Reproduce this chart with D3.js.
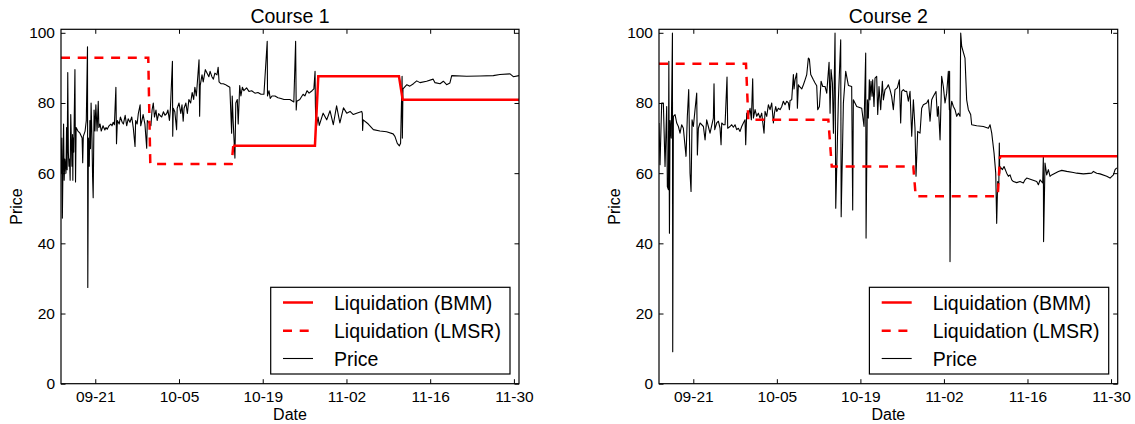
<!DOCTYPE html>
<html><head><meta charset="utf-8">
<script src="https://cdn.jsdelivr.net/npm/d3@7"></script>
<style>
body{margin:0;background:#fff}
svg{display:block}
text{font-family:"Liberation Sans",Arial,Helvetica,sans-serif;fill:#000}
</style>
</head><body>
<svg id="chart" width="1135" height="424"></svg>
<script>
// ---- data (days counted from 2013-09-01) ----
const titles = ["Course 1", "Course 2"];
const tickDays = [20, 34, 48, 62, 76, 90];
const tickLabels = ["09-21", "10-05", "10-19", "11-02", "11-16", "11-30"];
const yTicks = [0, 20, 40, 60, 80, 100];
const xDomains = [[14.27, 90.85], [14.25, 91.12]];
const yDomain = [0, 101];
const legendLabels = ["Liquidation (BMM)", "Liquidation (LMSR)", "Price"];

const bmm1 = [[43.07,67.8],[56.73,67.8],[57.29,87.6],[70.78,87.6],[71.4,80.9],[90.85,80.9]];
const lmsr1 = [[14.27,92.9],[28.86,92.9],[29.2,62.6],[42.8,62.6],[43.07,67.8]];
const price1 = [[14.3,60],[14.4,70],[14.5,47.2],[14.6,62],[14.7,74],[14.8,58],[14.9,64],[15.1,60],[15.2,73],[15.3,61],[15.4,88.7],[15.5,66],[15.6,62],[15.7,64],[15.8,58],[15.9,76.7],[16.1,62],[16.2,71],[16.25,58],[16.3,70],[16.4,66],[16.6,89.5],[16.7,57.5],[16.8,73],[17.1,72],[17.4,71.5],[17.8,70],[17.9,63],[18.0,70.5],[18.3,72],[18.5,75],[18.7,96],[18.75,27.4],[18.85,70],[19.0,62],[19.1,75],[19.2,67],[19.3,80],[19.45,70],[19.55,59],[19.65,53],[19.8,78],[19.95,72],[20.1,79.5],[20.3,72],[20.5,80.5],[20.6,73],[20.8,74],[21.0,72],[21.3,73.5],[21.6,72.3],[21.8,73],[22.0,72.5],[22.3,73.5],[22.6,74],[22.8,73.5],[23.0,74.5],[23.2,73.8],[23.45,84.5],[23.55,68.4],[23.7,75],[24.0,74],[24.2,76],[24.5,74.5],[24.7,74],[25.0,76.5],[25.25,73.5],[25.5,75.5],[25.8,74.5],[26.1,76],[26.35,73],[26.65,67.6],[26.75,75],[27.0,74],[27.2,77],[27.5,79.5],[27.6,73.5],[27.8,75],[28.0,76.7],[28.3,74],[28.6,67.1],[28.7,75],[29.0,74.3],[29.3,73.5],[29.5,78],[29.7,80],[29.9,76],[30.15,78],[30.35,75],[30.6,77],[30.8,76.5],[31.1,76],[31.4,77.5],[31.65,76.5],[31.95,77],[32.15,78],[32.4,75],[32.55,78],[32.9,91.9],[32.95,70.5],[33.05,78.5],[33.3,77.5],[33.6,72.4],[33.7,78.5],[34.0,80],[34.3,77],[34.5,79.5],[34.7,74.8],[34.85,78.5],[35.15,80],[35.4,77],[35.65,81],[35.95,80],[36.2,83],[36.45,81],[36.65,84.5],[36.9,82],[37.35,92.3],[37.45,76.2],[37.55,85],[37.85,88],[38.05,86],[38.4,89.5],[38.7,88.5],[39.0,87.5],[39.2,89],[39.5,87.5],[39.75,86.8],[40.0,88.5],[40.35,88],[40.55,90.2],[40.7,86],[41.0,85.5],[41.4,85.5],[41.7,85.3],[42.0,85],[42.5,84.5],[42.8,71.4],[42.9,82],[43.05,75],[43.35,64.3],[43.5,80],[43.75,81],[43.9,74],[44.15,85],[44.35,82],[44.6,84.5],[44.85,83.5],[45.3,84.3],[45.7,83.3],[46.15,83.5],[46.7,82.8],[47.2,83],[47.7,82.5],[48.2,82.5],[48.75,97.6],[48.8,82],[49.05,83.5],[49.25,81.3],[49.55,82],[50.05,82],[50.55,81.5],[51.05,81.3],[51.55,81],[52.55,81],[53.2,80.3],[53.5,97.6],[53.6,78],[53.7,80.5],[54.2,81],[54.75,82.5],[55.05,82],[55.4,83.5],[55.75,82.8],[56.25,83.5],[56.55,84],[56.75,89],[56.8,80],[56.9,72.4],[57.25,76],[57.45,73.6],[58.1,77.1],[58.7,75.2],[59.25,77.8],[59.8,73.8],[60.35,79.2],[60.9,74.3],[61.5,78.6],[62.05,77.1],[62.6,77.6],[63.15,76.7],[63.7,77.1],[64.55,77.6],[64.65,77],[64.7,72.2],[64.8,75.2],[65.65,74],[66.5,72.4],[67.6,72],[68.7,71.8],[69.8,71.2],[70.1,70.5],[70.5,68.5],[70.85,67.8],[71.05,68.5],[71.3,87.6],[71.35,70],[71.45,84],[72.1,85.2],[72.6,84.8],[73.2,85.5],[73.75,86.3],[74.3,85.8],[75.4,86.2],[76.5,86.8],[76.8,85.8],[77.65,85.5],[78.2,86.2],[78.75,85.2],[79.3,85.7],[79.6,87.8],[82.1,87.6],[84.3,87.7],[86.55,87.8],[87.65,88.1],[89.35,88.3],[89.9,87.5],[90.85,87.8]];

const bmm2 = [[71.4,64.8],[91.12,64.8]];
const lmsr2 = [[14.25,91.2],[28.83,91.2],[29.22,75.2],[42.63,75.2],[43.2,61.9],[56.87,61.9],[57.27,53.4],[71.02,53.4],[71.4,64.8]];
const price2 = [[14.25,74.3],[14.42,62.4],[14.7,80],[14.98,80],[15.26,61.9],[15.54,79],[15.65,56.2],[15.82,55.3],[15.9,91.9],[16.0,42.9],[16.1,75],[16.3,70],[16.5,99.9],[16.55,9.1],[16.66,76.2],[16.94,76.7],[17.22,74.3],[17.5,73.3],[17.77,71.4],[18.05,73.8],[18.33,72.8],[18.78,64.8],[19.0,76.2],[19.23,83.8],[19.45,60],[19.62,54.8],[19.79,75.2],[20.01,73.3],[20.29,78.1],[20.57,82.8],[20.68,65.2],[20.85,72.8],[21.13,74.3],[21.69,73.3],[21.97,69.5],[22.24,75.2],[22.52,73.3],[22.8,71.4],[23.36,75.7],[23.47,85.5],[23.59,72.4],[23.92,74.3],[24.2,74.8],[24.48,72.8],[24.65,68.1],[24.76,74.3],[25.04,73.8],[25.32,73.8],[25.65,87.4],[25.76,72.8],[26.16,73.3],[26.43,73.8],[26.71,73.1],[26.99,73.8],[27.27,72.4],[27.55,72.8],[27.83,71.9],[28.11,73.3],[28.39,74.3],[28.67,75.2],[28.78,68.1],[28.95,77.1],[29.23,76.2],[29.51,78.5],[29.73,75.2],[29.95,86.9],[30.07,75.7],[30.35,78.1],[30.63,76.2],[30.9,77.1],[31.18,75.7],[31.46,77.1],[31.85,71.4],[32.02,77.6],[32.3,76.2],[32.58,79.5],[32.86,78.1],[33.14,80],[33.42,74.3],[33.59,77.1],[33.81,79],[33.98,77.6],[34.26,78.5],[34.54,78.1],[34.82,79],[35.09,80.5],[35.37,79.5],[35.65,80.5],[35.93,80],[36.1,78.1],[36.21,80.7],[36.49,80.9],[36.77,88.1],[36.88,84],[37.05,86.6],[37.33,88.5],[37.44,78.5],[37.61,85.2],[37.78,84.7],[38.17,84],[38.45,85.2],[38.73,86.6],[39.01,88.1],[39.28,92.8],[39.45,92.5],[39.68,88.1],[40.12,86.6],[40.4,85.7],[40.68,84.9],[40.85,78.1],[41.13,79],[41.41,86.2],[41.69,84.7],[42.08,84.7],[42.36,82.8],[42.75,91.6],[42.92,77.1],[43.08,89.5],[43.31,85.7],[43.48,71.4],[43.75,99.9],[43.87,50],[44.31,80.9],[44.7,98],[44.78,47.6],[45.15,80],[45.54,89],[45.99,85],[46.54,84.7],[46.71,49.5],[46.82,80.9],[47.38,79],[48.22,78.5],[48.61,73.3],[48.89,94.2],[48.95,41.5],[49.17,80.9],[49.33,75.7],[49.5,86.6],[49.61,80.9],[49.78,86.2],[49.95,81.9],[50.06,86.6],[50.28,79],[50.45,87.1],[50.73,87.6],[50.9,76.7],[51.12,84.7],[51.4,78.1],[51.68,86.2],[51.85,80.9],[52.13,83.8],[52.41,84.3],[52.68,85.2],[52.96,83.8],[53.24,81.9],[53.52,78.1],[53.8,83.8],[54.19,84.3],[54.53,86.6],[54.75,74.3],[54.92,83.3],[55.2,83.8],[55.48,83.3],[55.76,83.3],[56.04,80.5],[56.32,83.3],[56.6,70.5],[56.88,80.9],[57.15,72.8],[57.32,59.1],[57.6,71.9],[57.99,71.4],[58.27,78.5],[58.55,79.5],[59.11,80],[59.39,80.9],[59.67,74.8],[59.95,80.9],[60.23,81.9],[60.67,83.3],[60.9,76.2],[61.07,79],[61.35,69.5],[61.62,87.6],[61.9,84.7],[62.18,80],[62.46,82.8],[62.74,89],[62.91,78.1],[62.95,89],[63.02,34.8],[63.15,78],[63.3,80.5],[63.58,79],[63.86,78.1],[64.14,76.2],[64.42,77.1],[64.7,76.2],[64.81,99.9],[64.98,96.1],[65.53,92.8],[65.81,80.9],[66.09,78.1],[66.48,76.7],[66.65,73.8],[67.49,73.5],[68.61,73.3],[69.45,72.8],[69.73,73.8],[70.01,71.4],[70.4,65.7],[70.68,60],[70.84,45.7],[71.01,57.6],[71.2,57],[71.28,68.6],[71.35,60],[71.4,61.9],[71.79,61],[72.07,61.9],[72.52,60],[72.8,59.1],[73.08,59.5],[73.36,58.1],[73.64,57.6],[74.19,57.3],[74.75,57.6],[75.31,57.2],[75.59,58.1],[75.87,58.6],[76.71,58.1],[77.55,57.6],[77.83,56.7],[78.11,58.1],[78.55,57.2],[78.66,64.8],[78.7,40.5],[78.94,62.9],[79.22,59.5],[79.5,61],[79.78,59.1],[80.06,59.5],[80.62,60],[81.18,60.5],[81.74,60.8],[82.58,60.5],[83.69,60.2],[84.25,60],[85.37,59.8],[86.77,60],[87.05,60.5],[87.6,60],[88.16,59.8],[89.28,59.1],[89.84,58.6],[90.4,59.5],[90.68,61],[90.96,61.5]];

const courses = [
  {bmm: bmm1, lmsr: lmsr1, price: price1},
  {bmm: bmm2, lmsr: lmsr2, price: price2}
];

// ---- drawing ----
const base = Date.UTC(2013, 8, 1);
const toDate = d => new Date(base + d * 864e5);

const svg = d3.select("#chart");
const panels = [
  {left: 61, right: 519, top: 29.3, bottom: 383.7},
  {left: 659, right: 1117.7, top: 29.3, bottom: 383.7}
];
const red = "#ff0000";

panels.forEach((p, i) => {
  const c = courses[i];
  const x = d3.scaleUtc().domain(xDomains[i].map(toDate)).range([p.left, p.right]);
  const y = d3.scaleLinear().domain(yDomain).range([p.bottom, p.top]);
  const g = svg.append("g");
  const clipId = "clip" + i;
  svg.append("clipPath").attr("id", clipId).append("rect")
    .attr("x", p.left).attr("y", p.top).attr("width", p.right - p.left).attr("height", p.bottom - p.top);

  const line = d3.line().x(d => x(toDate(d[0]))).y(d => y(d[1]));
  const plot = g.append("g").attr("clip-path", `url(#${clipId})`);

  plot.append("path").datum(c.price).attr("d", line)
    .attr("fill", "none").attr("stroke", "#000").attr("stroke-width", 1.1).attr("stroke-linejoin", "round");
  plot.append("path").datum(c.lmsr).attr("d", line)
    .attr("fill", "none").attr("stroke", red).attr("stroke-width", 2.5).attr("stroke-dasharray", "9,7.7");
  plot.append("path").datum(c.bmm).attr("d", line)
    .attr("fill", "none").attr("stroke", red).attr("stroke-width", 2.5);

  const tickDates = tickDays.map(toDate);
  const fmt = (d, k) => tickLabels[k];

  const axB = g.append("g").attr("transform", `translate(0,${p.bottom})`)
    .call(d3.axisBottom(x).tickValues(tickDates).tickFormat(fmt).tickSize(-4.5).tickPadding(7));
  const axT = g.append("g").attr("transform", `translate(0,${p.top})`)
    .call(d3.axisTop(x).tickValues(tickDates).tickFormat("").tickSize(-4.5));
  const axL = g.append("g").attr("transform", `translate(${p.left},0)`)
    .call(d3.axisLeft(y).tickValues(yTicks).tickSize(-4.5).tickPadding(6));
  const axR = g.append("g").attr("transform", `translate(${p.right},0)`)
    .call(d3.axisRight(y).tickValues(yTicks).tickFormat("").tickSize(-4.5));
  [axB, axT, axL, axR].forEach(a => {
    a.select(".domain").remove();
    a.selectAll("line").attr("stroke", "#000").attr("stroke-width", 1);
    a.selectAll("text").attr("font-size", 15.5).attr("font-family", "Liberation Sans, Arial, sans-serif").attr("fill", "#000");
  });

  g.append("rect").attr("x", p.left).attr("y", p.top)
    .attr("width", p.right - p.left).attr("height", p.bottom - p.top)
    .attr("fill", "none").attr("stroke", "#000").attr("stroke-width", 1.2);

  const cx = (p.left + p.right) / 2;
  g.append("text").attr("x", cx).attr("y", 23).attr("text-anchor", "middle")
    .attr("font-size", 19.5).text(titles[i]);
  g.append("text").attr("x", cx).attr("y", 419.5).attr("text-anchor", "middle")
    .attr("font-size", 16).text("Date");
  g.append("text").attr("transform", `translate(${p.left - 39.3},${(p.top + p.bottom) / 2}) rotate(-90)`)
    .attr("text-anchor", "middle").attr("font-size", 16).text("Price");

  // legend
  const lx = p.right - 248.3, ly = 287.3;
  const lg = g.append("g").attr("transform", `translate(${lx},${ly})`);
  lg.append("rect").attr("width", 239.3).attr("height", 86.7)
    .attr("fill", "#fff").attr("stroke", "#000").attr("stroke-width", 1.2);
  const rows = [15.2, 43.4, 71.2];
  const styles = [
    {stroke: red, w: 2.5, dash: null},
    {stroke: red, w: 2.5, dash: "9,7.7"},
    {stroke: "#000", w: 1.1, dash: null}
  ];
  legendLabels.forEach((lab, k) => {
    lg.append("line").attr("x1", 12.3).attr("x2", 42.3).attr("y1", rows[k]).attr("y2", rows[k])
      .attr("stroke", styles[k].stroke).attr("stroke-width", styles[k].w)
      .attr("stroke-dasharray", styles[k].dash);
    lg.append("text").attr("x", 63.3).attr("y", rows[k] + 7.2).attr("font-size", 19.5).text(lab);
  });
});
</script>
</body></html>
